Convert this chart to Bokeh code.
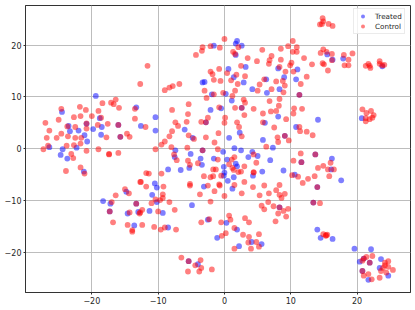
from bokeh.plotting import figure
from bokeh.models import FixedTicker, Legend, LegendItem
from bokeh.embed import file_html
from bokeh.resources import INLINE

series_names = ["Treated", "Control"]
tick_values = [-20, -10, 0, 10, 20]

treated_points = [
(-26.4,0.3),(-24.5,7.1),(-23.5,4.4),(-23.3,3.4),(-22.3,0.2),(-22.0,3.5),(-21.1,2.6),(-20.8,4.8),(-20.7,1.4),(-19.8,3.8),
(-19.4,10.2),(-18.8,5.9),(-18.5,4.2),(-18.6,2.7),(-16.0,4.6),(-15.7,2.3),(-13.3,8.0),(-12.6,4.4),(-24.4,-0.1),(-24.7,-1.2),
(-23.7,-1.9),(-21.2,-4.4),(-14.8,-8.3),(-18.3,-10.1),(-17.2,-10.6),(-17.3,-12.1),(-14.6,-12.5),(-13.6,-14.8),(-13.3,-10.6),(-13.0,-12.2),
(1.9,20.8),(1.7,20.3),(2.6,19.9),(-1.6,19.9),(1.7,18.1),(8.1,15.5),(3.2,15.8),(0.6,15.4),(1.4,13.8),(-3.3,12.8),
(-3.0,12.9),(2.9,12.8),(6.3,13.4),(4.2,11.5),(6.4,10.8),(8.3,11.5),(-1.9,10.5),(0.2,10.6),(1.1,9.3),(-2.1,7.5),
(-0.5,7.8),(2.6,7.9),(-10.4,6.1),(8.1,6.2),(-2.8,5.1),(6.1,5.0),(-10.4,3.5),(-6.0,3.7),(2.3,3.1),(-4.8,2.1),
(0.7,2.1),(5.8,1.7),(-3.3,-0.3),(1.5,0.1),(2.5,-0.3),(7.3,0.2),(-7.4,-0.3),(-5.1,-1.0),(-0.2,-0.6),(4.2,-0.6),
(5.0,-1.4),(-7.5,-1.6),(-5.3,-3.7),(-3.6,-1.9),(-3.4,-3.1),(-1.6,-1.9),(0.4,-2.1),(3.6,-1.6),(6.9,-2.2),(1.7,-2.9),
(1.9,-3.4),(-0.1,-3.5),(5.7,-4.4),(4.3,-5.2),(-8.5,-4.0),(-6.6,-4.1),(0.0,-4.6),(-0.1,-5.2),(1.4,-5.5),(0.5,-6.2),
(-10.5,-6.7),(-10.2,-7.5),(-3.1,-7.3),(1.2,-7.7),(-10.9,-8.9),(-10.2,-10.3),(-4.9,-10.9),(8.3,-11.3),(-9.3,-12.4),(-11.3,-12.0),
(-2.5,-13.7),(0.3,-14.3),(-8.5,-15.2),(1.9,-15.6),(-1.1,-17.2),(4.1,-18.0),(5.6,-18.4),(2.2,-18.8),(-5.4,-21.7),(-4.0,-22.3),
(15.5,18.2),(16.3,17.2),(17.9,17.4),(23.8,15.9),(9.0,13.8),(10.8,13.4),(11.0,15.3),(11.3,10.4),(14.1,5.6),(20.7,5.9),
(10.8,4.2),(9.1,2.5),(13.7,-1.1),(11.6,-2.6),(16.2,-1.9),(16.1,-4.0),(8.9,-4.2),(10.6,-5.0),(17.6,-6.1),(14.0,-7.4),
(13.4,-10.4),(14.0,-15.6),(14.5,-17.2),(16.3,-17.4),(19.6,-19.3),(22.1,-19.4),(21.0,-21.2),(20.4,-21.8),(21.9,-22.0),(23.6,-21.3),
(23.4,-23.0),(20.8,-23.6),(24.7,-24.5),(21.7,-25.3),
]

control_points = [
(-27.3,-0.1),(-27.0,5.0),(-26.4,3.5),(-26.8,2.1),(-26.6,0.6),(-25.3,2.1),(-25.0,5.6),(-24.6,2.9),(-24.6,7.7),(-23.8,0.6),
(-23.6,2.4),(-23.7,4.3),(-22.7,6.1),(-22.5,4.2),(-22.5,2.1),(-22.7,0.7),(-21.8,8.1),(-21.7,6.3),(-21.6,2.1),(-21.7,1.0),
(-20.9,7.5),(-20.8,4.9),(-20.8,3.9),(-20.8,-0.4),(-20.0,6.3),(-19.0,7.3),(-19.1,4.6),(-19.0,-0.1),(-18.6,6.0),(-18.4,8.8),
(-17.8,2.2),(-17.6,4.8),(-17.1,8.9),(-16.7,8.6),(-16.4,9.5),(-15.9,7.9),(-16.0,4.6),(-15.7,2.3),(-14.7,2.9),(-14.3,2.3),
(-13.5,5.8),(-13.5,7.7),(-12.7,12.5),(-23.1,-1.0),(-17.4,-1.1),(-17.4,-1.0),(-16.0,-0.8),(-22.8,-1.8),(-23.9,-4.3),(-21.7,-3.6),
(-21.1,-4.8),(-15.0,-7.8),(-14.4,-8.6),(-16.4,-9.0),(-17.0,-10.3),(-17.3,-12.1),(-16.8,-14.2),(-14.3,-12.3),(-14.6,-14.7),(-13.9,-16.0),
(-13.9,-15.7),(-13.3,-10.6),(-12.8,-12.5),(-12.7,-6.4),(0.0,21.2),(2.1,19.6),(-2.1,19.8),(-0.7,19.5),(-3.3,19.6),(-3.4,18.9),
(-4.3,18.1),(1.3,18.7),(1.6,18.3),(3.5,17.5),(5.7,19.1),(4.9,16.9),(6.8,17.1),(6.7,16.4),(7.1,17.9),(8.5,17.2),
(8.3,15.8),(2.5,16.0),(-0.8,15.4),(-2.1,14.9),(-1.8,14.4),(0.4,14.6),(1.8,14.3),(3.1,14.0),(1.0,13.2),(-1.6,13.3),
(-0.6,13.1),(2.0,12.5),(6.0,13.4),(5.3,12.4),(7.8,13.0),(5.0,11.2),(7.1,11.5),(-11.6,16.0),(-6.8,12.5),(-7.8,12.1),
(-8.3,11.8),(-9.0,11.3),(-3.0,11.2),(-1.6,10.5),(-2.7,9.8),(-0.2,10.8),(1.6,11.2),(1.2,10.2),(2.9,9.5),(3.1,8.9),
(6.8,9.2),(8.3,9.6),(-5.4,8.6),(-7.9,7.5),(-0.8,8.0),(1.6,7.9),(2.6,7.9),(4.4,7.7),(7.0,7.2),(7.8,7.3),
(8.2,8.3),(-5.5,6.7),(3.0,6.5),(5.8,6.8),(0.1,6.0),(-2.5,6.0),(-7.4,5.1),(-5.7,5.2),(-3.5,5.2),(-2.8,5.1),
(0.0,5.0),(1.9,5.1),(5.8,5.1),(-7.0,4.4),(2.2,4.2),(7.5,4.1),(-11.9,4.2),(-7.9,3.4),(-0.9,3.0),(-5.4,2.6),
(-8.3,2.4),(-4.6,1.9),(-2.8,2.2),(2.6,2.4),(8.0,2.2),(8.1,1.3),(-1.5,1.2),(-9.0,1.4),(-9.5,0.8),(-10.4,-0.1),
(-8.0,0.3),(-5.6,0.2),(-3.3,-0.3),(-1.0,-0.1),(6.3,0.4),(-7.6,-1.1),(4.4,-1.1),(-7.2,-2.2),(-5.5,-2.3),(-5.2,-3.1),
(-4.0,-2.8),(-1.0,-2.1),(1.1,-2.1),(1.5,-1.6),(4.8,-2.7),(0.7,-3.0),(1.2,-3.7),(1.4,-4.1),(3.0,-3.4),(2.1,-4.5),
(2.5,-4.4),(4.4,-4.5),(4.4,-4.6),(-9.5,-4.8),(-11.8,-4.7),(-11.4,-4.8),(-1.7,-4.0),(-1.3,-4.0),(-0.5,-5.2),(-3.1,-5.3),
(-2.1,-5.5),(-1.7,-5.3),(3.0,-6.4),(-12.6,-6.4),(-11.8,-7.3),(-9.2,-7.3),(-5.2,-6.8),(-5.2,-7.1),(-2.5,-7.1),(-0.8,-6.9),
(-0.7,-7.1),(1.5,-7.0),(4.3,-7.4),(6.0,-7.1),(8.3,-7.0),(7.8,-8.0),(-1.5,-8.2),(2.6,-8.6),(5.3,-9.0),(6.7,-8.6),
(8.3,-8.9),(-3.7,-8.8),(0.0,-9.1),(-9.3,-8.8),(-9.3,-9.5),(-10.4,-9.8),(-11.0,-10.5),(-9.7,-9.9),(-8.3,-10.3),(-2.1,-10.2),
(6.6,-10.3),(5.6,-11.0),(6.0,-11.7),(7.4,-11.1),(8.3,-11.3),(8.1,-12.5),(-7.5,-11.8),(-10.0,-12.1),(-12.4,-11.8),(-12.7,-12.3),
(0.7,-12.9),(0.9,-13.7),(3.1,-13.4),(3.7,-14.2),(-2.3,-13.6),(-3.5,-14.2),(-0.5,-14.2),(7.7,-14.0),(-12.4,-14.7),(-10.6,-15.1),
(-9.6,-15.6),(-9.0,-15.2),(-7.3,-15.6),(1.5,-15.3),(0.2,-16.3),(-0.4,-16.8),(2.8,-16.6),(3.7,-17.0),(5.2,-16.5),(3.6,-18.1),
(4.8,-18.0),(5.2,-18.9),(4.0,-19.3),(1.5,-19.3),(-6.5,-21.0),(-5.4,-21.7),(-3.6,-21.5),(-4.4,-22.5),(-3.5,-23.0),(-5.5,-23.7),
(-3.8,-23.7),(-1.9,-23.3),(14.8,25.2),(14.9,24.6),(14.4,24.0),(14.7,24.1),(15.7,24.1),(16.3,23.7),(10.3,20.8),(9.6,19.8),
(10.9,19.6),(8.5,19.3),(10.3,18.7),(10.9,18.7),(14.9,19.2),(14.5,18.5),(15.4,18.7),(16.2,18.3),(18.0,18.1),(19.3,18.4),
(12.0,17.5),(16.2,17.1),(18.7,17.2),(10.1,16.6),(9.9,16.1),(13.2,16.3),(14.8,16.5),(15.0,16.3),(18.1,16.1),(18.7,16.1),
(9.2,14.9),(10.4,14.9),(15.6,15.1),(21.3,16.0),(21.7,16.4),(21.9,16.0),(22.0,15.6),(23.4,16.9),(23.4,16.4),(24.1,16.2),
(23.8,16.1),(12.4,13.9),(8.8,13.1),(11.5,12.5),(9.1,12.2),(8.9,10.9),(11.3,10.4),(10.5,7.8),(11.7,7.7),(10.4,6.8),
(9.3,5.7),(20.8,7.6),(21.4,6.9),(22.1,7.3),(22.5,6.5),(22.3,6.0),(21.9,5.7),(21.3,5.3),(21.3,5.9),(11.3,4.2),
(11.4,3.4),(12.4,3.3),(13.3,2.6),(9.1,2.5),(9.7,1.6),(11.5,-0.9),(13.7,-1.1),(10.4,-2.3),(11.6,-2.6),(16.0,-2.7),
(14.1,-3.7),(14.9,-3.3),(15.6,-4.0),(16.5,-4.0),(10.2,-5.1),(11.1,-5.4),(12.6,-5.8),(13.6,-5.3),(15.8,-5.3),(11.8,-6.6),
(14.0,-7.4),(9.1,-8.7),(8.6,-9.5),(13.4,-10.4),(14.4,-10.5),(9.6,-11.6),(8.9,-12.0),(9.3,-13.1),(14.9,-16.5),(15.3,-16.7),
(15.3,-16.8),(15.5,-16.6),(22.3,-20.7),(21.4,-20.9),(21.0,-21.2),(20.8,-21.6),(21.9,-22.0),(24.7,-21.7),(24.2,-22.0),(24.2,-22.5),
(24.7,-22.8),(23.9,-23.0),(25.4,-23.4),(23.6,-23.6),(24.4,-23.9),(20.8,-23.6),(21.7,-24.2),(21.0,-24.5),(23.4,-24.9),(22.2,-25.2),
]

treated_x = [pt[0] for pt in treated_points]
treated_y = [pt[1] for pt in treated_points]
control_x = [pt[0] for pt in control_points]
control_y = [pt[1] for pt in control_points]

p = figure(width=415, height=310, output_backend="svg", toolbar_location=None,
           x_range=(-30.0, 28.05), y_range=(-27.75, 27.65),
           min_border_left=25, min_border_right=5, min_border_top=5, min_border_bottom=18)
p.styles = {"position": "absolute", "top": "0", "left": "0"}

for ax in (p.xaxis[0], p.yaxis[0]):
    ax.ticker = FixedTicker(ticks=tick_values)
    ax.major_label_text_font = "DejaVu Sans"
    ax.major_label_text_font_size = "8px"
    ax.major_label_text_color = "#262626"
    ax.major_label_standoff = 2
    ax.major_tick_in = 0
    ax.major_tick_out = 2
    ax.minor_tick_out = 0
    ax.minor_tick_in = 0
    ax.axis_line_color = "#333333"
    ax.major_tick_line_color = "#333333"
    ax.major_tick_line_width = 1
p.yaxis[0].major_label_orientation = "horizontal"

p.grid.grid_line_color = "#bdbdbd"
p.grid.grid_line_width = 1
p.outline_line_color = "#333333"
p.outline_line_width = 1

r1 = p.scatter(treated_x, treated_y, size=5.8, fill_color="blue", fill_alpha=0.5, line_alpha=0)
r2 = p.scatter(control_x, control_y, size=5.8, fill_color="red", fill_alpha=0.5, line_alpha=0)

legend = Legend(items=[LegendItem(label=series_names[0], renderers=[r1]),
                       LegendItem(label=series_names[1], renderers=[r2])],
                location=(328, 258), margin=0, padding=2, spacing=0,
                glyph_width=13, glyph_height=10, label_standoff=6,
                label_text_font="DejaVu Sans", label_text_font_size="7.2px",
                label_text_color="#262626", label_height=10,
                border_line_color="#d8d8d8", background_fill_alpha=0.8)
p.add_layout(legend)

open("out.html", "w").write(file_html(p, INLINE))
